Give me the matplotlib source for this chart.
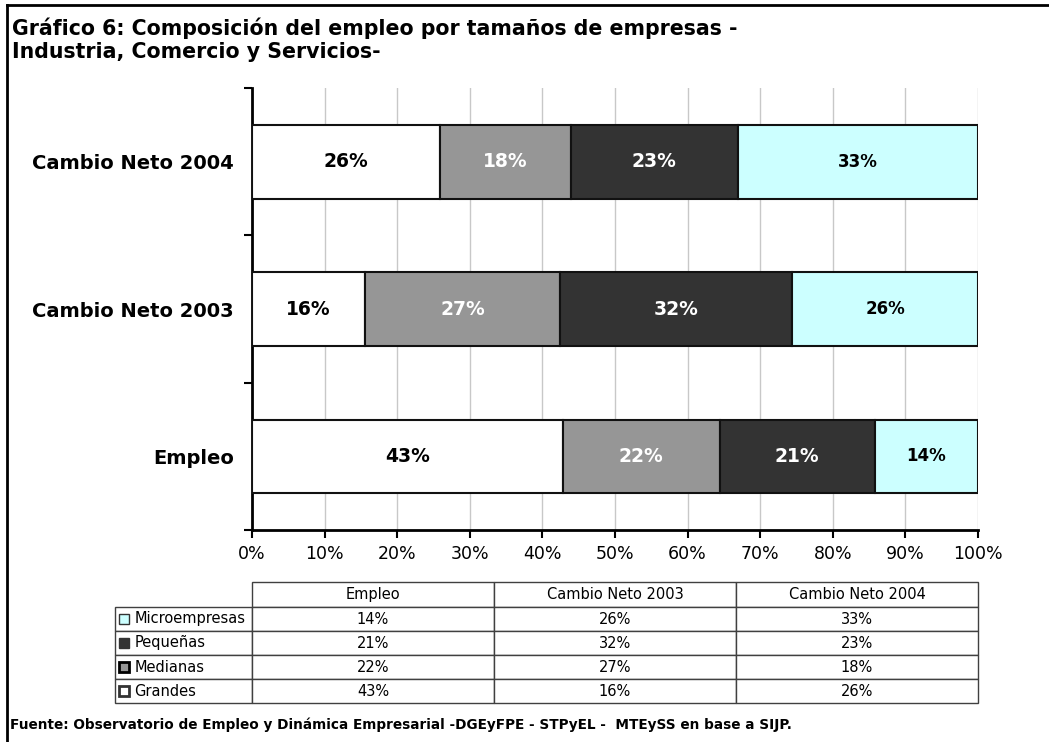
import matplotlib
matplotlib.use('Agg')
import matplotlib.pyplot as plt
from matplotlib.table import Table
from matplotlib.patches import Rectangle
from matplotlib.lines import Line2D
from matplotlib.ticker import FixedLocator, FormatStrFormatter

# datos (participacion en %)
categorias = ['Empleo', 'Cambio Neto 2003', 'Cambio Neto 2004']
grandes = [42.8, 15.6, 25.9]
medianas = [21.6, 26.8, 18.0]
pequenas = [21.4, 32.0, 23.0]
micro = [14.2, 25.6, 33.1]
nombres = ['Grandes', 'Medianas', 'Pequeñas', 'Microempresas']
xticks = [0, 10, 20, 30, 40, 50, 60, 70, 80, 90, 100]

colores = ['#FFFFFF', '#969696', '#333333', '#CCFFFF']
color_texto = ['black', 'white', 'white', 'black']
tam_texto = [13.5, 13.5, 13.5, 12]

plt.rcParams['font.family'] = ['DejaVu Sans']

W, H = 1049, 742
fig = plt.figure(figsize=(W / 100, H / 100), dpi=100)

# --- grafico de barras apiladas ---
ax = fig.add_axes([252 / W, 1 - 530 / H, (978 - 252) / W, (530 - 88) / H])
series = [grandes, medianas, pequenas, micro]
izq = [0, 0, 0]
pos = list(range(len(categorias)))
for nom, vals, col, tc, ts in zip(nombres, series, colores, color_texto, tam_texto):
    barras = ax.barh(pos, vals, left=izq, height=0.5, color=col,
                     edgecolor='#111111', linewidth=1.5, zorder=3, label=nom)
    ax.bar_label(barras, labels=['%.0f%%' % v for v in vals], label_type='center',
                 color=tc, fontsize=ts, fontweight='bold')
    izq = [a + b for a, b in zip(izq, vals)]

ax.set_xlim(0, 100)
ax.set_ylim(-0.5, 2.5)
ax.set_xticks(xticks)
ax.xaxis.set_major_formatter(FormatStrFormatter('%d%%'))
ax.tick_params(axis='x', direction='out', length=6, width=1.5, labelsize=12.5, pad=5)
ax.set_yticks(pos)
ax.set_yticklabels(categorias, fontsize=14, fontweight='bold')
ax.tick_params(axis='y', which='major', length=0, pad=13)
ax.yaxis.set_minor_locator(FixedLocator([-0.5, 0.5, 1.5, 2.5]))
ax.tick_params(axis='y', which='minor', direction='out', length=6, width=1.5)
ax.grid(axis='x', color='#C8C8C8', linewidth=1)
ax.set_axisbelow(True)
for s in ['top', 'right']:
    ax.spines[s].set_visible(False)
for s in ['left', 'bottom']:
    ax.spines[s].set_linewidth(2)

# --- tabla de datos ---
axt = fig.add_axes([115 / W, 1 - 703 / H, (978 - 115) / W, (703 - 582) / H])
axt.axis('off')
tabla = Table(axt, bbox=[0, 0, 1, 1])
for j, c in enumerate(categorias, start=1):
    tabla.add_cell(0, j, width=242, height=25, text=c, loc='center')
filas = [('Microempresas', micro), ('Pequeñas', pequenas),
         ('Medianas', medianas), ('Grandes', grandes)]
for i, (nom, vals) in enumerate(filas, start=1):
    celda = tabla.add_cell(i, 0, width=137, height=24, text=nom, loc='left')
    celda.PAD = 0.14
    for j, v in enumerate(vals, start=1):
        tabla.add_cell(i, j, width=242, height=24, text='%.0f%%' % v, loc='center')
tabla.auto_set_font_size(False)
tabla.set_fontsize(10.5)
for celda in tabla.get_celld().values():
    celda.set_edgecolor('#404040')
    celda.set_linewidth(1)
axt.add_table(tabla)

# cuadraditos de leyenda en las filas
claves = [('#CCFFFF', '#333333', 1), ('#333333', '#333333', 1),
          ('#969696', '#000000', 2), ('#FFFFFF', '#333333', 2)]
for i, (fc, ec, lw) in enumerate(claves):
    yc = (703 - (607 + 24 * i + 12)) / 121
    axt.add_patch(Rectangle((4 / 863, yc - 5 / 121), 10 / 863, 10 / 121,
                            facecolor=fc, edgecolor=ec, linewidth=lw,
                            transform=axt.transAxes, clip_on=False, zorder=5))

# --- textos y marco ---
fig.text(12 / W, 1 - 28 / H, 'Gráfico 6: Composición del empleo por tamaños de empresas -',
         fontsize=14.8, fontweight='bold', va='center')
fig.text(12 / W, 1 - 52 / H, 'Industria, Comercio y Servicios-',
         fontsize=14.8, fontweight='bold', va='center')
fig.text(10 / W, 1 - 725 / H,
         'Fuente: Observatorio de Empleo y Dinámica Empresarial -DGEyFPE - STPyEL -  MTEySS en base a SIJP.',
         fontsize=9.8, fontweight='bold', va='center')
fig.add_artist(Line2D([7 / W, 7 / W], [0, 1 - 5 / H], color='black', linewidth=2,
                      transform=fig.transFigure))
fig.add_artist(Line2D([7 / W, 1], [1 - 5 / H, 1 - 5 / H], color='black', linewidth=2,
                      transform=fig.transFigure))

fig.savefig('out.png', dpi=100)
